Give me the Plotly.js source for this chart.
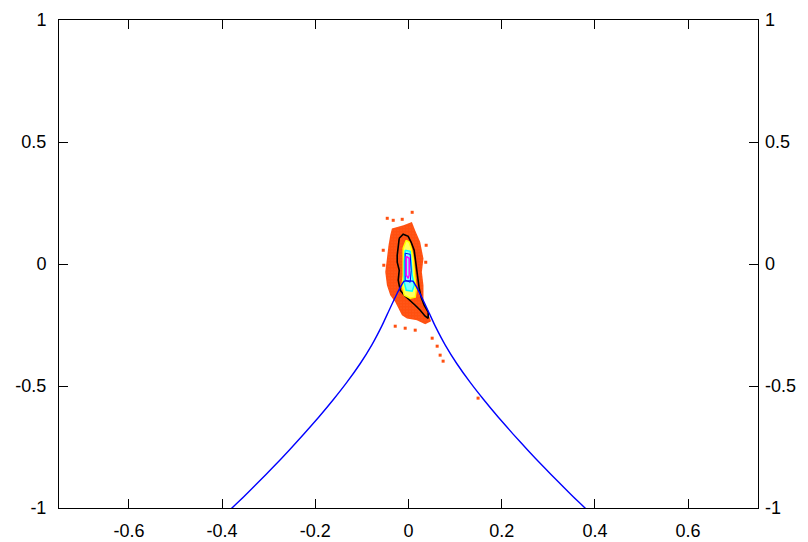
<!DOCTYPE html>
<html>
<head>
<meta charset="utf-8">
<script src="https://cdn.plot.ly/plotly-3.0.1.min.js"></script>
<style>html,body{margin:0;padding:0;background:#fff;}#chart{width:808px;height:542px;}</style>
</head>
<body>
<div id="chart"></div>
<script>
// axis ticks
var xTicks = [-0.6, -0.4, -0.2, 0, 0.2, 0.4, 0.6];
var xTickLabels = ["-0.6", "-0.4", "-0.2", "0", "0.2", "0.4", "0.6"];
var yTicks = [-1, -0.5, 0, 0.5, 1];
var yTickLabels = ["-1", "-0.5", "0", "0.5", "1"];

// blue boundary curve: left branch (bottom -> cusp), flat top, right branch (cusp -> bottom)
var curveX = [-0.3820, -0.3535, -0.3214, -0.2893, -0.2571, -0.2250, -0.1928, -0.1607, -0.1324, -0.1035, -0.0789, -0.0574, -0.0403, -0.0253, -0.0156, -0.0092,
              0.0092, 0.0156, 0.0253, 0.0403, 0.0574, 0.0789, 0.1035, 0.1324, 0.1607, 0.1928, 0.2250, 0.2571, 0.2893, 0.3214, 0.3535, 0.3820];
var curveY = [-1.0057, -0.9542, -0.8927, -0.8301, -0.7656, -0.6981, -0.6280, -0.5543, -0.4852, -0.4078, -0.3324, -0.2547, -0.1842, -0.1241, -0.0890, -0.0706,
              -0.0706, -0.0890, -0.1241, -0.1842, -0.2547, -0.3324, -0.4078, -0.4852, -0.5543, -0.6280, -0.6981, -0.7656, -0.8301, -0.8927, -0.9542, -1.0057];

// outer (orange) density region
var orangeX = [-0.0356, -0.0107, 0.0073, 0.0144, 0.0251, 0.0321, 0.0287, 0.0321, 0.0321, 0.0422, 0.0486, 0.0358, 0.0180, -0.0034, -0.0141, -0.0214, -0.0285, -0.0392, -0.0463, -0.0499, -0.0463, -0.0429, -0.0392, -0.0356];
var orangeY = [0.1451, 0.1587, 0.1722, 0.1372, 0.0903, 0.0223, -0.0325, -0.0870, -0.1554, -0.2016, -0.2344, -0.2467, -0.2303, -0.2233, -0.2098, -0.1824, -0.1554, -0.1279, -0.0870, -0.0325, 0.0223, 0.0768, 0.1177, 0.1451];
var speckX = [-0.0456, -0.0328, -0.0135, 0.0079, -0.0285, -0.0071, 0.0144, 0.0508, 0.0615, 0.0679, 0.0743, 0.1493, -0.0530, -0.0542, 0.0379, 0.0370];
var speckY = [0.1873, 0.1791, 0.1832, 0.2119, -0.2549, -0.2631, -0.2712, -0.3040, -0.3368, -0.3736, -0.3982, -0.5497, -0.0051, 0.0563, 0.0768, 0.0072];

// contour levels
var blackX = [-0.0199, -0.0221, -0.0242, -0.0242, -0.0199, -0.0221, -0.0178, -0.0092, 0.0036, 0.0144, 0.0251, 0.0358, 0.0422, 0.0422, 0.0336, 0.0272, 0.0229, 0.0208, 0.0186, 0.0144, 0.0122, 0.0058, -0.0006, -0.0114, -0.0199];
var blackY = [0.1054, 0.0768, 0.0358, 0.0072, -0.0256, -0.0665, -0.1075, -0.128, -0.1484, -0.1689, -0.1894, -0.214, -0.2222, -0.1976, -0.1689, -0.1361, -0.0993, -0.0665, -0.0256, 0.0154, 0.0563, 0.089, 0.1136, 0.1218, 0.1054];
var yellowX = [-0.0049, -0.0114, -0.0114, -0.0114, -0.0135, -0.0092, 0.0036, 0.0144, 0.0165, 0.0144, 0.0122, 0.0101, 0.0058, 0.0015, -0.0049];
var yellowY = [0.0972, 0.0645, 0.0154, -0.0461, -0.087, -0.128, -0.1402, -0.1361, -0.1075, -0.0665, -0.0256, 0.0235, 0.0645, 0.089, 0.0972];
var cyanX = [-0.0071, -0.0092, -0.0092, -0.0092, -0.0049, 0.0079, 0.0122, 0.0079, 0.0058, 0.0036, -0.0071];
var cyanY = [0.0563, 0.0072, -0.0461, -0.0747, -0.1075, -0.1116, -0.087, -0.0461, 0.0072, 0.0522, 0.0563];
var blueInX = [-0.0071, -0.0071, 0.0036, 0.0058, 0.0036, -0.0071];
var blueInY = [0.044, -0.0665, -0.0747, -0.0256, 0.0399, 0.044];
var magentaX = [-0.0049, -0.0049, -0.0006, 0.0015, 0.0015, -0.0049];
var magentaY = [0.0317, -0.0461, -0.0584, -0.0461, 0.0235, 0.0317];

var orange = '#ff5010';
var traces = [
  {x: orangeX, y: orangeY, type: 'scatter', mode: 'none', fill: 'toself', fillcolor: 'rgba(255,255,255,0)',
   fillpattern: {shape: '.', fgcolor: orange, bgcolor: 'rgba(255,255,255,0)', size: 3, solidity: 0.9},
   hoverinfo: 'skip'},
  {x: speckX, y: speckY, type: 'scatter', mode: 'markers',
   marker: {symbol: 'square', size: 3, color: orange}, hoverinfo: 'skip'},
  {x: blackX, y: blackY, type: 'scatter', mode: 'lines', line: {color: '#000000', width: 1.6}, hoverinfo: 'skip'},
  {x: yellowX, y: yellowY, type: 'scatter', mode: 'lines', fill: 'toself', fillcolor: '#ffff60',
   line: {color: '#ffff00', width: 1.5}, hoverinfo: 'skip'},
  {x: cyanX, y: cyanY, type: 'scatter', mode: 'lines', fill: 'toself', fillcolor: '#80ffff',
   line: {color: '#00ffff', width: 1.5}, hoverinfo: 'skip'},
  {x: blueInX, y: blueInY, type: 'scatter', mode: 'lines', line: {color: '#0000ff', width: 1}, hoverinfo: 'skip'},
  {x: magentaX, y: magentaY, type: 'scatter', mode: 'lines', line: {color: '#ff00ff', width: 1.5}, hoverinfo: 'skip'},
  {x: curveX, y: curveY, type: 'scatter', mode: 'lines',
   line: {color: '#0000ff', width: 1.4, shape: 'spline', smoothing: 0.5}, hoverinfo: 'skip'},
  {x: [0], y: [0], yaxis: 'y2', type: 'scatter', mode: 'markers', marker: {opacity: 0}, hoverinfo: 'skip'}
];

var tickFont = {family: '"Liberation Sans", Arial, sans-serif', size: 18, color: '#000'};
var layout = {
  width: 808, height: 542,
  margin: {l: 59, r: 50, t: 20, b: 34, pad: 0},
  paper_bgcolor: '#fff', plot_bgcolor: '#fff',
  showlegend: false,
  xaxis: {range: [-0.75, 0.75], tickvals: xTicks, ticktext: xTickLabels, ticks: 'inside', ticklen: 9,
          tickwidth: 1, tickcolor: '#000', showline: true, linecolor: '#000', linewidth: 1, mirror: 'ticks',
          showgrid: false, zeroline: false, tickfont: tickFont, ticklabelstandoff: 6},
  yaxis: {range: [-1, 1], tickvals: yTicks, ticktext: yTickLabels, ticks: 'inside', ticklen: 9,
          tickwidth: 1, tickcolor: '#000', showline: true, linecolor: '#000', linewidth: 1, mirror: 'ticks',
          showgrid: false, zeroline: false, tickfont: tickFont, ticklabelstandoff: 8},
  yaxis2: {range: [-1, 1], overlaying: 'y', side: 'right', tickvals: yTicks, ticktext: yTickLabels,
           ticks: '', showline: false, showgrid: false, zeroline: false, tickfont: tickFont, ticklabelstandoff: 6}
};

Plotly.newPlot('chart', traces, layout, {staticPlot: true, displayModeBar: false});
</script>
</body>
</html>
